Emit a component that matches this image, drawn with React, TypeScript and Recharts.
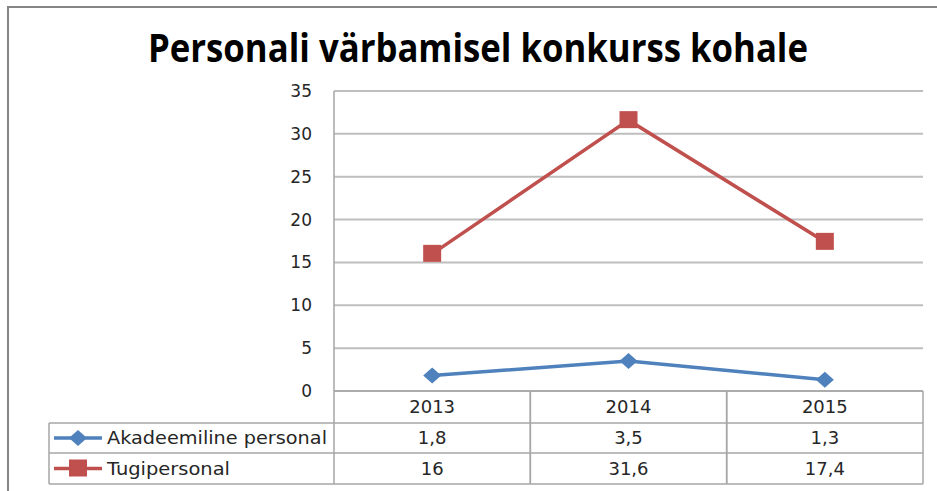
import React from 'react';
import { LineChart, Line, XAxis, YAxis, CartesianGrid } from 'recharts';

const categories = ['2013', '2014', '2015'];
const akadeemiline = [1.8, 3.5, 1.3];
const tugipersonal = [16, 31.6, 17.4];
const seriesNames = ['Akadeemiline personal', 'Tugipersonal'];
const yTicks = [0, 5, 10, 15, 20, 25, 30, 35];
const title = 'Personali värbamisel konkurss kohale';

const BLUE = '#4F81BD';
const RED = '#C0504D';
const GRID = '#BEBEBE';
const TABLE = '#A6A6A6';
const FONT = '"DejaVu Sans", Verdana, sans-serif';

const data = categories.map((c, i) => ({ year: c, akad: akadeemiline[i], tugi: tugipersonal[i] }));

const fmt = (v: number) => String(v).replace('.', ',');

const PLOT_W = 589;
const HALF_BAND = PLOT_W / categories.length / 2;

const Diamond = (props: any) => {
  const { cx, cy } = props;
  if (cx == null || cy == null) return null;
  return <polygon points={`${cx - 9},${cy} ${cx},${cy - 8} ${cx + 9},${cy} ${cx},${cy + 8}`} fill={BLUE} />;
};

const Square = (props: any) => {
  const { cx, cy } = props;
  if (cx == null || cy == null) return null;
  return <rect x={cx - 9} y={cy - 9} width={18} height={17} fill={RED} />;
};

// x axis ticks draw the data table below the plot
const TableTick = (props: any) => {
  const { x, y, payload } = props;
  const i = payload.index;
  const left = x - HALF_BAND;
  const right = x + HALF_BAND;
  const r1 = y + 32;
  const r2 = y + 62;
  const r3 = y + 93;
  const txt = { fontFamily: FONT, fontSize: 18, fill: '#262626', textAnchor: 'middle' as const };
  const legLeft = 49;
  return (
    <g>
      <line x1={left} x2={left} y1={y} y2={r3} stroke={TABLE} strokeWidth={1.5} />
      <line x1={right} x2={right} y1={y} y2={r3} stroke={TABLE} strokeWidth={1.5} />
      <line x1={left} x2={right} y1={r1} y2={r1} stroke={TABLE} strokeWidth={1.5} />
      <line x1={left} x2={right} y1={r2} y2={r2} stroke={TABLE} strokeWidth={1.5} />
      <line x1={left} x2={right} y1={r3} y2={r3} stroke={TABLE} strokeWidth={1.5} />
      <text x={x} y={y + 22} {...txt}>{payload.value}</text>
      <text x={x} y={r1 + 21} {...txt}>{fmt(akadeemiline[i])}</text>
      <text x={x} y={r2 + 22} {...txt}>{fmt(tugipersonal[i])}</text>
      {i === 0 && (
        <g>
          <line x1={legLeft} x2={left} y1={r1} y2={r1} stroke={TABLE} strokeWidth={1.5} />
          <line x1={legLeft} x2={left} y1={r2} y2={r2} stroke={TABLE} strokeWidth={1.5} />
          <line x1={legLeft} x2={left} y1={r3} y2={r3} stroke={TABLE} strokeWidth={1.5} />
          <line x1={legLeft} x2={legLeft} y1={r1} y2={r3} stroke={TABLE} strokeWidth={1.5} />
          <line x1={54} x2={102} y1={(r1 + r2) / 2} y2={(r1 + r2) / 2} stroke={BLUE} strokeWidth={3.5} />
          <Diamond cx={78} cy={(r1 + r2) / 2} />
          <line x1={54} x2={102} y1={(r2 + r3) / 2} y2={(r2 + r3) / 2} stroke={RED} strokeWidth={3.5} />
          <Square cx={78} cy={(r2 + r3) / 2} />
          <text x={107} y={r1 + 21} fontFamily={FONT} fontSize={18} fill="#262626" textLength={220} lengthAdjust="spacingAndGlyphs">{seriesNames[0]}</text>
          <text x={107} y={r2 + 22} fontFamily={FONT} fontSize={18} fill="#262626" textLength={123} lengthAdjust="spacingAndGlyphs">{seriesNames[1]}</text>
        </g>
      )}
    </g>
  );
};

export default function App() {
  return (
    <div style={{ position: 'absolute', left: 0, top: 0, width: 937, height: 491, background: '#fff', overflow: 'hidden' }}>
      <div style={{ position: 'absolute', left: 7, top: 6, width: 940, height: 500, borderLeft: '2px solid #868686', borderTop: '2px solid #868686' }} />
      <svg style={{ position: 'absolute', left: 0, top: 0 }} width={937} height={80}>
        <text x={148} y={62} fontFamily='"Open Sans", sans-serif' fontWeight={700} fontSize={40} fill="#000" textLength={660} lengthAdjust="spacingAndGlyphs">{title}</text>
      </svg>
      <div style={{ position: 'absolute', left: 0, top: 0 }}>
        <LineChart width={937} height={491} data={data} margin={{ top: 91, right: 14, bottom: 7, left: 274 }}>
          <CartesianGrid vertical={false} stroke={GRID} strokeWidth={2} />
          <XAxis dataKey="year" height={93} padding={{ left: HALF_BAND, right: HALF_BAND }} tickSize={0} tickMargin={0} axisLine={{ stroke: TABLE, strokeWidth: 1.5 }} tickLine={false} tick={<TableTick />} interval={0} />
          <YAxis width={60} domain={[0, 35]} ticks={yTicks} tickSize={0} tickMargin={22} tickLine={false} axisLine={{ stroke: TABLE, strokeWidth: 1.5 }} tick={{ fontFamily: FONT, fontSize: 17, fill: '#262626' }} />
          <Line dataKey="akad" name={seriesNames[0]} stroke={BLUE} strokeWidth={3.5} dot={<Diamond />} activeDot={false} isAnimationActive={false} />
          <Line dataKey="tugi" name={seriesNames[1]} stroke={RED} strokeWidth={3.5} dot={<Square />} activeDot={false} isAnimationActive={false} />
        </LineChart>
      </div>
    </div>
  );
}
